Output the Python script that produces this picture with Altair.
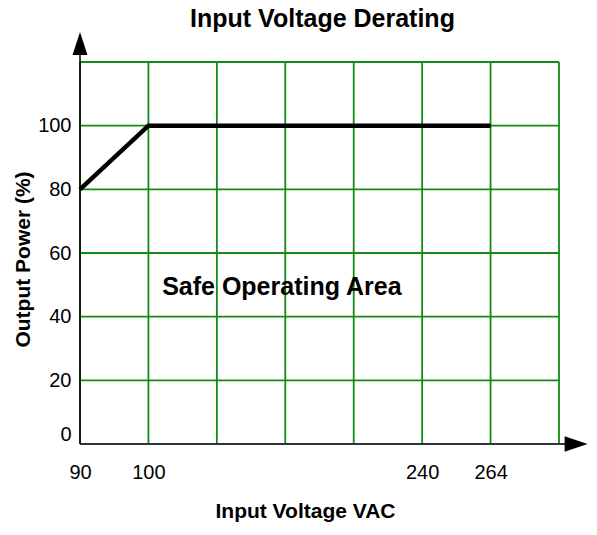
import altair as alt
import pandas as pd

FONT = "Liberation Sans, Arial, sans-serif"

# ---- data ----
chart_title = ["Input Voltage Derating"]
tick_volts = [90, 100, 240, 264]      # labelled input voltages
tick_slots = [0, 1, 5, 6]             # grid column where each label sits
grid_cols = [0, 1, 2, 3, 4, 5, 6, 7]  # vertical grid columns
grid_rows = [0, 20, 40, 60, 80, 100, 120]
y_labels = [0, 20, 40, 60, 80, 100]

curve_volts = [90, 100, 264]
curve_power = [80, 100, 100]

area_label = ["Safe Operating Area"]
area_slot = [2.95]
area_pct = [46.8]

slot_of = dict(zip(tick_volts, tick_slots))
curve = pd.DataFrame({"slot": [slot_of[v] for v in curve_volts], "pct": curve_power})
vgrid = pd.DataFrame({"slot": grid_cols, "pct": 0, "pct_end": 120})
hgrid = pd.DataFrame({"pct": grid_rows, "slot": 0, "slot_end": 7})
yaxis_line = pd.DataFrame({"slot": [0], "pct": [0], "pct_end": [122.2]})
xaxis_line = pd.DataFrame({"slot": [0], "slot_end": [7.09], "pct": [0]})
yarrow = pd.DataFrame({"slot": [0], "pct": [125.8]})
xarrow = pd.DataFrame({"slot": [7.25], "pct": [0]})
area = pd.DataFrame({"slot": area_slot, "pct": area_pct, "label": area_label})
title_df = pd.DataFrame({"label": chart_title})

label_expr = "''"
for s, v in zip(reversed(tick_slots), reversed(tick_volts)):
    label_expr = f"datum.value == {s} ? '{v}' : ({label_expr})"

X = alt.X("slot:Q", scale=alt.Scale(domain=[0, 7], nice=False, zero=False),
          axis=alt.Axis(values=tick_slots, labelExpr=label_expr, title="Input Voltage VAC",
                        domain=False, ticks=False, grid=False, labelFontSize=20,
                        labelPadding=18, labelFlush=False, labelColor="#000",
                        titleFontSize=21, titleFontWeight="bold", titlePadding=18,
                        titleX=225, titleColor="#000", labelFont=FONT, titleFont=FONT))
Y = alt.Y("pct:Q", scale=alt.Scale(domain=[0, 120], nice=False),
          axis=alt.Axis(values=y_labels, title="Output Power (%)", domain=False, ticks=False,
                        grid=False, labelFontSize=20, labelPadding=9, labelFlush=True,
                        labelColor="#000", titleFontSize=21, titleFontWeight="bold",
                        titlePadding=4, titleY=197, titleColor="#000",
                        labelFont=FONT, titleFont=FONT))

GREEN = "#128c12"

v = alt.Chart(vgrid).mark_rule(color=GREEN, strokeWidth=1.8).encode(x=X, y=Y, y2="pct_end:Q")
h = alt.Chart(hgrid).mark_rule(color=GREEN, strokeWidth=1.8).encode(y=Y, x=X, x2="slot_end:Q")
ya = alt.Chart(yaxis_line).mark_rule(color="#000", strokeWidth=1.5).encode(x=X, y=Y, y2="pct_end:Q")
xa = alt.Chart(xaxis_line).mark_rule(color="#333", strokeWidth=2.2).encode(y=Y, x=X, x2="slot_end:Q")
line = alt.Chart(curve).mark_line(color="#000", strokeWidth=4.5, strokeCap="butt").encode(x=X, y=Y)
up = alt.Chart(yarrow).mark_point(shape="M-0.65,1L0.65,1L0,-1Z", filled=True, size=529,
                                  color="#000", opacity=1).encode(x=X, y=Y)
right = alt.Chart(xarrow).mark_point(shape="M-1,-0.67L1,0L-1,0.67Z", filled=True, size=529,
                                     color="#000", opacity=1).encode(x=X, y=Y)
txt = alt.Chart(area).mark_text(font=FONT, fontSize=25, fontWeight="bold", color="#000",
                                baseline="alphabetic").encode(x=X, y=Y, text="label:N")
ttl = alt.Chart(title_df).mark_text(font=FONT, fontSize=25, fontWeight="bold", color="#000",
                                    baseline="alphabetic", align="center").encode(
    x=alt.value(242.5), y=alt.value(-35), text="label:N")

chart = alt.layer(v, h, xa, ya, line, up, right, txt, ttl).properties(
    width=479, height=382,
    autosize=alt.AutoSizeParams(type="none"),
    padding={"left": 72, "top": 54, "right": 30, "bottom": 83},
).configure_view(stroke=None).configure(background="white")

chart.save("out.html", embed_options={"renderer": "svg", "actions": False})
